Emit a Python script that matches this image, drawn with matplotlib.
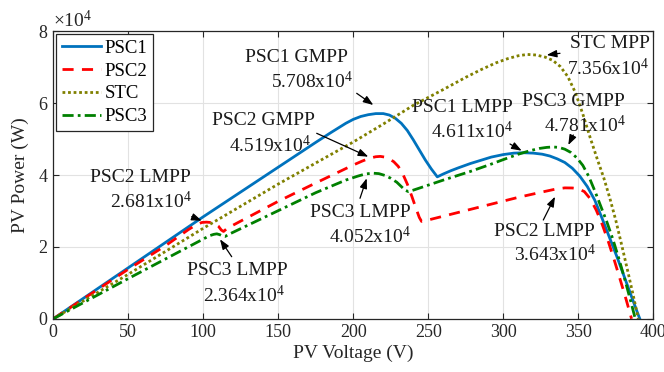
import matplotlib
matplotlib.use("Agg")
import matplotlib.pyplot as plt
import numpy as np

plt.rcParams['font.family'] = ['Liberation Serif', 'DejaVu Serif']
plt.rcParams['mathtext.fontset'] = 'custom'
plt.rcParams['mathtext.rm'] = 'Liberation Serif'
plt.rcParams['mathtext.it'] = 'Liberation Serif:italic'
plt.rcParams['mathtext.bf'] = 'Liberation Serif:bold'

# ---------------- data (power in units of 1e4 W) ----------------
v_psc1 = [0, 50, 100, 150, 175, 185, 195, 200, 205, 210, 215, 220, 224, 228, 232, 236, 240,
          244, 248, 252, 256, 260, 265, 270, 278, 285, 292, 300, 307, 314, 320, 326, 331,
          336, 341, 346, 351, 356, 361, 366, 371, 376, 381, 386, 389, 391]
p_psc1 = [0, 1.42, 2.84, 4.22, 4.91, 5.18, 5.44, 5.55, 5.63, 5.68, 5.71, 5.71, 5.67, 5.58,
          5.44, 5.24, 4.98, 4.70, 4.42, 4.17, 3.95, 4.03, 4.12, 4.20, 4.32, 4.41, 4.50, 4.57,
          4.61, 4.62, 4.61, 4.58, 4.53, 4.45, 4.35, 4.19, 3.97, 3.68, 3.30, 2.78, 2.24, 1.70,
          1.13, 0.56, 0.22, 0.0]

v_psc2 = [0, 50, 75, 90, 95, 99, 102, 105, 108, 110, 112, 113.5, 116, 125, 150, 175, 190,
          200, 206, 211, 215, 218, 221, 224, 227, 230, 233, 236, 239, 242, 244, 245.5, 250,
          270, 290, 310, 325, 335, 341, 346, 350, 354, 358, 362, 366, 370, 374, 378, 382,
          385.5]
p_psc2 = [0, 1.38, 2.04, 2.48, 2.61, 2.68, 2.69, 2.68, 2.64, 2.58, 2.47, 2.43, 2.52, 2.72,
          3.27, 3.78, 4.08, 4.28, 4.39, 4.47, 4.51, 4.519, 4.50, 4.45, 4.37, 4.24, 4.03, 3.75,
          3.41, 3.05, 2.82, 2.71, 2.75, 2.96, 3.17, 3.38, 3.52, 3.61, 3.643, 3.64, 3.62, 3.54,
          3.34, 3.02, 2.62, 2.15, 1.63, 1.08, 0.52, 0.0]

v_stc = [0, 50, 100, 150, 185, 200, 220, 240, 260, 275, 285, 295, 303, 310, 316, 322, 328,
         333, 338, 343, 348, 353, 358, 363, 367, 371, 375, 379, 383, 387, 390]
p_stc = [0, 1.24, 2.52, 3.75, 4.57, 4.92, 5.42, 5.94, 6.38, 6.72, 6.93, 7.12, 7.24, 7.32,
         7.356, 7.34, 7.28, 7.19, 7.02, 6.74, 6.30, 5.70, 5.03, 4.40, 3.92, 3.36, 2.74, 2.04,
         1.32, 0.58, 0.0]

v_psc3 = [0, 50, 100, 104, 107, 109, 111, 113, 114.5, 117, 130, 150, 175, 195, 203, 208,
          213, 217, 221, 225, 229, 232, 234.5, 236.7, 240, 245, 260, 278, 291, 300, 310, 318,
          324, 329, 333, 337, 341, 345, 349, 353, 357, 361, 365, 369, 373, 377, 381, 385, 388]
p_psc3 = [0, 1.12, 2.22, 2.31, 2.35, 2.364, 2.34, 2.30, 2.29, 2.35, 2.61, 3.01, 3.51, 3.86,
          3.97, 4.03, 4.052, 4.04, 3.99, 3.91, 3.80, 3.68, 3.58, 3.54, 3.58, 3.65, 3.86, 4.10,
          4.29, 4.43, 4.58, 4.68, 4.74, 4.77, 4.781, 4.77, 4.72, 4.63, 4.48, 4.27, 3.96, 3.56,
          3.13, 2.70, 2.22, 1.68, 1.10, 0.48, 0.0]

series_names = ['PSC1', 'PSC2', 'STC', 'PSC3']
scale = 1e4

# annotations: (line1, line2, x-center px, baseline px line1, x-center px line2, baseline px line2)
ann_text = [
    ('PSC1 GMPP', r'5.708x10$^4$', 296, 61.6, 312, 88.3),
    ('PSC2 GMPP', r'4.519x10$^4$', 263, 125, 270, 151.7),
    ('PSC1 LMPP', r'4.611x10$^4$', 462, 111.7, 472, 138.3),
    ('PSC3 GMPP', r'4.781x10$^4$', 573, 106, 585, 131.7),
    ('STC MPP', r'7.356x10$^4$', 609.5, 48.3, 608, 75),
    ('PSC2 LMPP', r'2.681x10$^4$', 140, 181.7, 150.5, 208.3),
    ('PSC3 LMPP', r'2.364x10$^4$', 237, 275, 244, 301.7),
    ('PSC3 LMPP', r'4.052x10$^4$', 360, 216.7, 370, 243.3),
    ('PSC2 LMPP', r'3.643x10$^4$', 544.5, 236, 555, 260.7),
]
# arrows: (tail x, tail y, tip x, tip y) in pixels
ann_arrows = [
    (356.7, 93.3, 373.3, 105),
    (316.7, 133.3, 368.3, 156.7),
    (510, 144, 521.7, 150.7),
    (573.3, 135, 568.3, 145),
    (560, 53.3, 546.7, 55),
    (191.7, 216.7, 201.7, 220.7),
    (231.7, 256.7, 220, 239.3),
    (360, 198.3, 366.7, 178.3),
    (543.3, 220, 555, 196.7),
]

W, H = 664, 372
fig = plt.figure(figsize=(W / 100, H / 100), dpi=100)
ax = fig.add_axes([53.3 / W, 1 - 318.8 / H, 600 / W, (318.8 - 31.3) / H])

ax.plot(v_psc1, np.array(p_psc1) * scale, color='#0072BD', lw=2.0, ls='-', label=series_names[0])
ax.plot(v_psc2, np.array(p_psc2) * scale, color='#FF0000', lw=2.0, ls=(0, (4, 3)), label=series_names[1])
ax.plot(v_stc, np.array(p_stc) * scale, color='#808000', lw=2.0, ls=(0, (1, 1)), label=series_names[2])
ax.plot(v_psc3, np.array(p_psc3) * scale, color='#008000', lw=2.0, ls=(0, (4, 1.5, 1, 1.5)), label=series_names[3])

ax.set_xlim(0, 400)
ax.set_ylim(0, 8e4)
ax.set_xticks(np.arange(0, 401, 50))
ax.set_yticks(np.arange(0, 8.01e4, 2e4))
ax.ticklabel_format(axis='y', style='sci', scilimits=(0, 0), useMathText=True)
ax.yaxis.get_offset_text().set_fontsize(14)

ax.grid(True, color='#e2e2e2', lw=0.8)
ax.set_axisbelow(True)
ax.tick_params(direction='in', top=True, right=True, labelsize=13, length=4, width=0.8, colors='#262626')
for s in ax.spines.values():
    s.set_color('#262626')
    s.set_linewidth(0.9)

ax.set_xlabel('PV Voltage (V)', fontsize=14, color='#262626', labelpad=3)
ax.set_ylabel('PV Power (W)', fontsize=14, color='#262626', labelpad=6)

leg = ax.legend(loc='upper left', fontsize=13.5, frameon=True, fancybox=False,
                borderaxespad=0.15, handlelength=2.1, handletextpad=0.2,
                labelspacing=0.3, borderpad=0.3)
leg.get_frame().set_edgecolor('#262626')
leg.get_frame().set_linewidth(0.9)
leg.get_frame().set_alpha(1)

for l1, l2, x1, y1, x2, y2 in ann_text:
    fig.text(x1 / W, 1 - y1 / H, l1, ha='center', va='baseline', fontsize=14, color='#1a1a1a')
    fig.text(x2 / W, 1 - y2 / H, l2, ha='center', va='baseline', fontsize=14, color='#1a1a1a')

for tx, ty, hx, hy in ann_arrows:
    ax.annotate('', xy=(hx / W, 1 - hy / H), xycoords='figure fraction',
                xytext=(tx / W, 1 - ty / H), textcoords='figure fraction',
                arrowprops=dict(arrowstyle='-|>,head_length=0.6,head_width=0.22',
                                color='k', lw=0.9, shrinkA=0, shrinkB=0))

fig.savefig('out.png', dpi=100)
